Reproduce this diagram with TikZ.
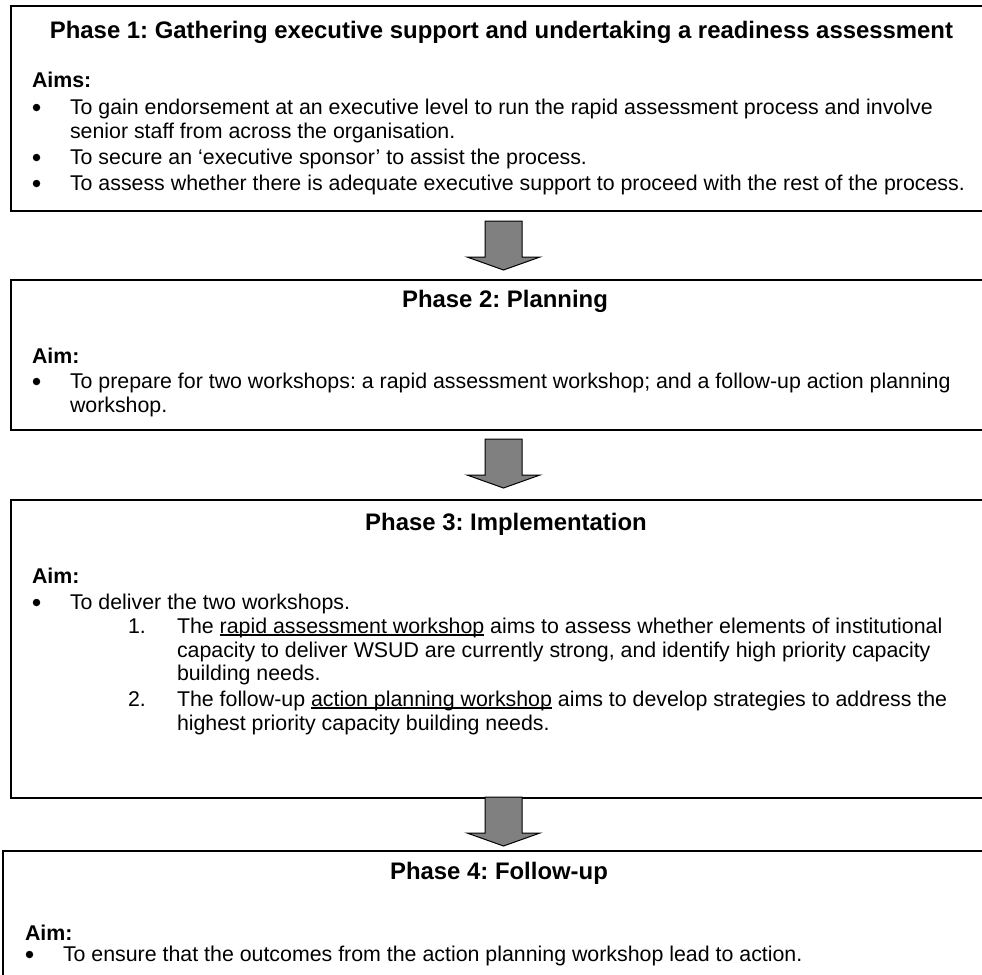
\documentclass[tikz,border=0pt]{standalone}
\usepackage{fontspec}
\setmainfont{Liberation Sans}
\newcommand\myul[1]{\setbox0\hbox{#1}\rlap{\rule[-2.6pt]{\wd0}{1.3pt}}\box0\relax}
\begin{document}
\begin{tikzpicture}[x=1pt,y=-1pt,
  every node/.style={inner sep=0pt, outer sep=0pt},
  phasebox/.style={draw=black, line width=2pt, rectangle, anchor=north west},
  body/.style={anchor=base west, font=\fontsize{21.35pt}{24pt}\selectfont\frenchspacing},
  head/.style={anchor=base west, font=\fontsize{21.35pt}{24pt}\selectfont\bfseries},
  title/.style={anchor=base, font=\fontsize{23.9pt}{28pt}\selectfont\bfseries\frenchspacing},
  bulletdot/.style={circle, fill=black, minimum size=7.5pt},
  blockarrow/.style={draw=black, line width=1pt, fill=arrowgray, line join=miter},
  downarrow/.pic={\draw[blockarrow] (-18.5,0) -- (18.5,0) -- (18.5,36) -- (36.5,36) -- (0,49) -- (-36.5,36) -- (-18.5,36) -- cycle;}
]
\definecolor{arrowgray}{HTML}{808080}
\useasboundingbox (0,0) rectangle (982,974);
\fill[white] (0,0) rectangle (982,974);
\clip (0,0) rectangle (982,974);

% ---------- boxes ----------
\node[phasebox, minimum width=989pt, minimum height=205pt] (p1) at (11,6) {};
\node[phasebox, minimum width=989pt, minimum height=150pt] (p2) at (11,280) {};
\node[phasebox, minimum width=989pt, minimum height=298pt] (p3) at (11,500) {};
\node[phasebox, minimum width=997pt, minimum height=149pt] (p4) at (3,851) {};

% ---------- arrows ----------
\coordinate (a1) at (503.5,221);
\coordinate (a2) at (503.5,439);
\coordinate (a3) at (503.5,797);
\pic at (a1) {downarrow};
\pic at (a2) {downarrow};
\pic at (a3) {downarrow};

% ---------- Phase 1 ----------
\node[title] (t1) at (501.5,38) {Phase 1: Gathering executive support and undertaking a readiness assessment};
\node[head] (h1) at (32,88) {Aims:};
\node[bulletdot] (b11) at (36.5,107.5) {};
\node[body] (l11) at (70,114) {To gain endorsement at an executive level to run the rapid assessment process and involve};
\node[body] (l12) at (70,138) {senior staff from across the organisation.};
\node[bulletdot] (b12) at (36.5,157.5) {};
\node[body] (l13) at (70,164) {To secure an ‘executive sponsor’ to assist the process.};
\node[bulletdot] (b13) at (36.5,183.5) {};
\node[body] (l14) at (70,190) {To assess whether there is adequate executive support to proceed with the rest of the process.};

% ---------- Phase 2 ----------
\node[title] (t2) at (505,307) {Phase 2: Planning};
\node[head] (h2) at (32,363) {Aim:};
\node[bulletdot] (b21) at (36.5,381.5) {};
\node[body] (l21) at (70,388) {To prepare for two workshops: a rapid assessment workshop; and a follow-up action planning};
\node[body] (l22) at (70,412) {workshop.};

% ---------- Phase 3 ----------
\node[title] (t3) at (506,530) {Phase 3: Implementation};
\node[head] (h3) at (32,583) {Aim:};
\node[bulletdot] (b31) at (36.5,602.5) {};
\node[body] (l31) at (70,609) {To deliver the two workshops.};
\node[body] (n1) at (128,633) {1.};
\node[body] (l32) at (177,633) {The \myul{rapid assessment workshop} aims to assess whether elements of institutional};
\node[body] (l33) at (177,657) {capacity to deliver WSUD are currently strong, and identify high priority capacity};
\node[body] (l34) at (177,680) {building needs.};
\node[body] (n2) at (128,706) {2.};
\node[body] (l35) at (177,706) {The follow-up \myul{action planning workshop} aims to develop strategies to address the};
\node[body] (l36) at (177,730) {highest priority capacity building needs.};

% ---------- Phase 4 ----------
\node[title] (t4) at (499,879) {Phase 4: Follow-up};
\node[head] (h4) at (25,940) {Aim:};
\node[bulletdot] (b41) at (29.5,954.5) {};
\node[body] (l41) at (63,961) {To ensure that the outcomes from the action planning workshop lead to action.};
\end{tikzpicture}
\end{document}
